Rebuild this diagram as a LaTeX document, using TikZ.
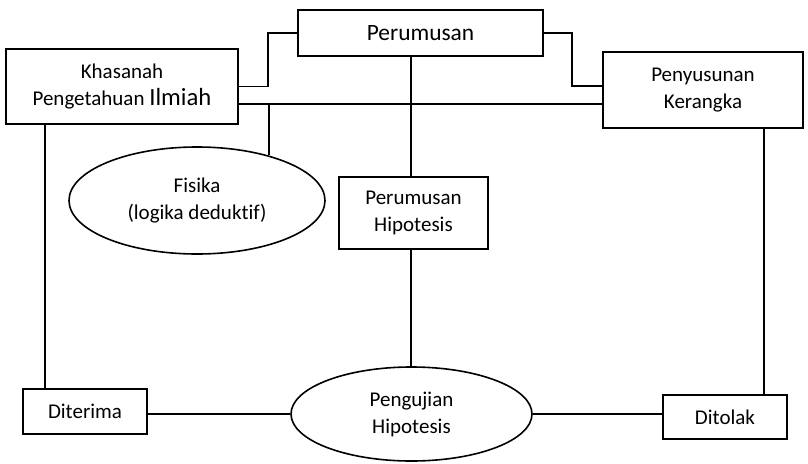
\documentclass[tikz,border=0pt]{standalone}
\usepackage{fontspec}
\setmainfont{Carlito}[Ligatures=NoCommon]
\usetikzlibrary{shapes.geometric}
\begin{document}
\begin{tikzpicture}[x=1pt,y=-1pt,line width=1.6pt,
  every node/.style={font=\fontsize{21}{27}\selectfont,align=center,inner sep=0pt},
  box/.style={draw,rectangle,minimum width=#1},
  oval/.style={draw,ellipse}]
\useasboundingbox (0,0) rectangle (808,463);
\node[box=232pt,minimum height=75pt] (khas) at (122,86.5) {Khasanah\\Pengetahuan {\fontsize{24.7}{27}\selectfont Ilmiah}};
\node[box=245pt,minimum height=46pt,font=\fontsize{23.4}{27}\selectfont] (perum) at (420.5,33) {Perumusan};
\node[box=200pt,minimum height=76pt] (peny) at (703,90) {Penyusunan\\Kerangka};
\node[box=149pt,minimum height=72pt] (hip) at (413.5,213) {Perumusan\\Hipotesis};
\node[oval,minimum width=256pt,minimum height=107pt] (fis) at (197,200.5) {Fisika\\(logika deduktif)};
\node[oval,minimum width=241pt,minimum height=94pt] (uji) at (411.5,414) {Pengujian\\Hipotesis};
\node[box=124pt,minimum height=45pt] (dit) at (85,411.5) {Diterima};
\node[box=124pt,minimum height=44pt] (tol) at (725,417) {Ditolak};
\coordinate (j1) at (268,33);
\coordinate (j2) at (572,86);
\coordinate (h) at (0,104);
\coordinate (v) at (411,0);
\coordinate (l) at (45,0);
\coordinate (r) at (764,0);
\draw (khas.east) -| (j1) -- (perum.west);
\draw (perum.east) -| (j2) -- (j2 -| peny.west);
\draw (khas.east |- h) -- (peny.west |- h);
\draw (fis.32) -- (fis.32 |- h);
\draw (perum.south -| v) -- (hip.north -| v);
\draw (hip.south -| v) -- (uji.north -| v);
\draw (khas.south -| l) -- (dit.north -| l);
\draw (peny.south -| r) -- (tol.north -| r);
\draw (dit.east |- uji.west) -- (uji.west);
\draw (uji.east) -- (uji.east -| tol.west);
\end{tikzpicture}
\end{document}
